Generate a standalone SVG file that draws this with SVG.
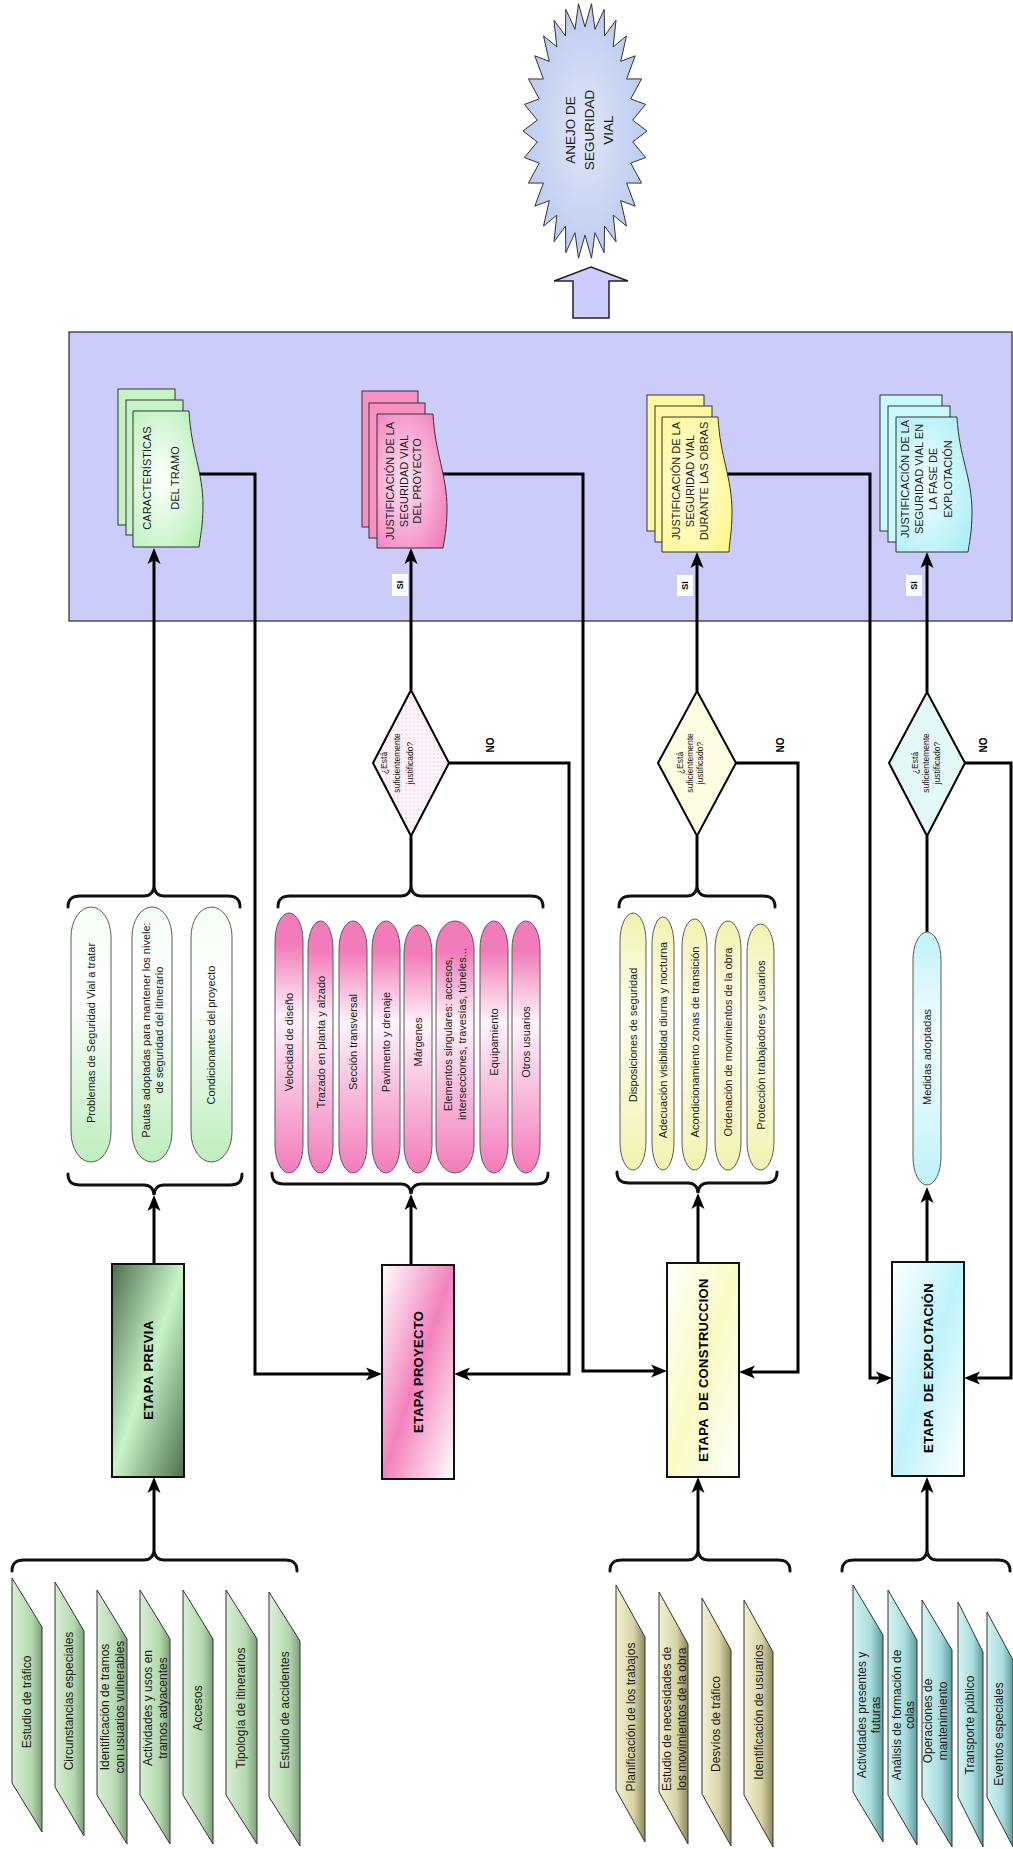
<svg xmlns="http://www.w3.org/2000/svg" width="1013" height="1849" viewBox="0 0 1013 1849">
<defs>
<style>
.ln{fill:none;stroke:#000;stroke-width:3}
.br{fill:none;stroke:#111;stroke-width:3;stroke-linecap:round}
.tx{font-family:"Liberation Sans",Arial,sans-serif;fill:#1a1a1a}
.bd{font-weight:bold;fill:#000}
.bub{stroke:#5a5a5a;stroke-width:1}
.doc{stroke:#333;stroke-width:1}
.stage{stroke:#111;stroke-width:2}
.inp{stroke:#333;stroke-width:1}
.dia{stroke:#000;stroke-width:2}
.lbl{fill:#fff;stroke:none}
</style>
<marker id="ah" markerUnits="userSpaceOnUse" markerWidth="16" markerHeight="16" viewBox="0 0 16 16" refX="9" refY="8" orient="auto">
<path d="M0,1.5 L16,8 L0,14.5 L4,8 Z" fill="#000"/>
</marker>
<radialGradient id="gStar" cx="0.5" cy="0.5" r="0.6"><stop offset="0" stop-color="#e2e6f8"/><stop offset="1" stop-color="#b4c6ee"/></radialGradient>
<linearGradient id="gPrevia" x1="0" y1="0" x2="1" y2="1"><stop offset="0" stop-color="#4e6e4e"/><stop offset="0.5" stop-color="#c8f5c8"/><stop offset="1" stop-color="#4e6e4e"/></linearGradient>
<linearGradient id="gProy" x1="0" y1="0" x2="1" y2="1"><stop offset="0" stop-color="#ffffff"/><stop offset="0.5" stop-color="#f282bc"/><stop offset="1" stop-color="#ffffff"/></linearGradient>
<linearGradient id="gCons" x1="0" y1="0" x2="1" y2="1"><stop offset="0" stop-color="#ffffff"/><stop offset="0.5" stop-color="#fafac4"/><stop offset="1" stop-color="#ffffff"/></linearGradient>
<linearGradient id="gExpl" x1="0" y1="0" x2="1" y2="1"><stop offset="0" stop-color="#ffffff"/><stop offset="0.5" stop-color="#bff3fb"/><stop offset="1" stop-color="#ffffff"/></linearGradient>
<radialGradient id="dGrn" cx="0.4" cy="0.5" r="0.7"><stop offset="0" stop-color="#ffffff"/><stop offset="1" stop-color="#b8f0b8"/></radialGradient>
<radialGradient id="dPnk" cx="0.4" cy="0.5" r="0.7"><stop offset="0" stop-color="#fde4f2"/><stop offset="1" stop-color="#f27cbb"/></radialGradient>
<radialGradient id="dYel" cx="0.4" cy="0.5" r="0.7"><stop offset="0" stop-color="#ffffe4"/><stop offset="1" stop-color="#fff68c"/></radialGradient>
<radialGradient id="dCyn" cx="0.4" cy="0.5" r="0.7"><stop offset="0" stop-color="#f4ffff"/><stop offset="1" stop-color="#aaeef6"/></radialGradient>
<linearGradient id="bGrn" x1="0" y1="0" x2="0" y2="1"><stop offset="0" stop-color="#f4fff4"/><stop offset="0.35" stop-color="#ffffff"/><stop offset="1" stop-color="#bdeebd"/></linearGradient>
<linearGradient id="bPnk" x1="0" y1="0" x2="0" y2="1"><stop offset="0" stop-color="#f27cb9"/><stop offset="0.12" stop-color="#f27cb9"/><stop offset="0.4" stop-color="#fff4fa"/><stop offset="0.7" stop-color="#f8b8da"/><stop offset="1" stop-color="#f27cb9"/></linearGradient>
<linearGradient id="bYel" x1="0" y1="0" x2="0" y2="1"><stop offset="0" stop-color="#f2f2b0"/><stop offset="0.4" stop-color="#fffff0"/><stop offset="1" stop-color="#f2f2b0"/></linearGradient>
<linearGradient id="bCyn" x1="0" y1="0" x2="0" y2="1"><stop offset="0" stop-color="#bff2f6"/><stop offset="0.4" stop-color="#f4ffff"/><stop offset="1" stop-color="#bff2f6"/></linearGradient>
<linearGradient id="iGrn" x1="0" y1="0" x2="1" y2="0"><stop offset="0" stop-color="#d8f0d4"/><stop offset="0.65" stop-color="#b4d8ae"/><stop offset="1" stop-color="#809f7d"/></linearGradient>
<linearGradient id="iKhk" x1="0" y1="0" x2="1" y2="0"><stop offset="0" stop-color="#f2f2d2"/><stop offset="0.6" stop-color="#d8d4a6"/><stop offset="1" stop-color="#8c885e"/></linearGradient>
<linearGradient id="iCyn" x1="0" y1="0" x2="1" y2="0"><stop offset="0" stop-color="#d4f4f4"/><stop offset="0.6" stop-color="#a8dcdc"/><stop offset="1" stop-color="#5e9c9c"/></linearGradient>
<pattern id="dots" width="4" height="4" patternUnits="userSpaceOnUse"><rect width="4" height="4" fill="#fdf3f8"/><circle cx="2" cy="2" r="0.6" fill="#e4a8c6"/></pattern>
</defs>

<rect width="1013" height="1849" fill="#fff"/>

<!-- Star -->
<g id="anejo">
<polygon points="647,131 632.7,120.1 645.6,104.4 630.7,98.9 641.6,78.9 626.6,79 635.2,55.8 620.7,61.4 626.5,35.9 613.2,46.9 616,20.2 604.5,36 604.2,9.3 595,29.3 591.5,3.7 585,27 578.5,3.7 575,29.3 565.8,9.3 565.5,36 554,20.2 556.8,46.9 543.5,35.9 549.3,61.4 534.8,55.8 543.4,79 528.4,78.9 539.3,98.9 524.4,104.4 537.3,120.1 523,131 537.3,141.9 524.4,157.6 539.3,163.1 528.4,183.1 543.4,183 534.8,206.2 549.3,200.6 543.5,226.1 556.8,215.1 554,241.8 565.5,226 565.8,252.7 575,232.7 578.5,258.3 585,235 591.5,258.3 595,232.7 604.2,252.7 604.5,226 616,241.8 613.2,215.1 626.5,226.1 620.7,200.6 635.2,206.2 626.6,183 641.6,183.1 630.7,163.1 645.6,157.6 632.7,141.9" fill="url(#gStar)" stroke="#333" stroke-width="1"/>
<text class="tx" font-size="13.5" text-anchor="middle" transform="translate(589,130) rotate(-90)"><tspan x="0" y="-14.3">ANEJO DE</tspan><tspan x="0" y="4.7">SEGURIDAD</tspan><tspan x="0" y="23.7">VIAL</tspan></text>
</g>
<g id="flecha-anejo">
<polygon points="591,267 628,281 609,281 609,318 573,318 573,281 554,281" fill="#ccccff" stroke="#222" stroke-width="1.5"/>
</g>

<!-- Panel -->
<g id="panel">
<rect x="69" y="332" width="943" height="289" fill="#ccccfa" stroke="#000" stroke-width="1"/>
</g>

<!-- Connectors -->
<g id="connectors">
<path class="ln" d="M154,1264 V1202" marker-end="url(#ah)"/>
<path class="ln" d="M154,1550 V1484" marker-end="url(#ah)"/>
<path class="ln" d="M154,886 V555" marker-end="url(#ah)"/>
<path class="ln" d="M411,1265 V1201" marker-end="url(#ah)"/>
<path class="ln" d="M411,886 V836"/>
<path class="ln" d="M411,690 V555" marker-end="url(#ah)"/>
<path class="ln" d="M449,763 H569 V1374 H461" marker-end="url(#ah)"/>
<path class="ln" d="M180,474 H255 V1374 H375" marker-end="url(#ah)"/>
<path class="ln" d="M430,474 H583 V1371 H660" marker-end="url(#ah)"/>
<path class="ln" d="M698,1263 V1200" marker-end="url(#ah)"/>
<path class="ln" d="M698,1550 V1484" marker-end="url(#ah)"/>
<path class="ln" d="M697,886 V836"/>
<path class="ln" d="M697,691 V559" marker-end="url(#ah)"/>
<path class="ln" d="M736,763 H798 V1372 H746" marker-end="url(#ah)"/>
<path class="ln" d="M715,474 H870 V1378 H885" marker-end="url(#ah)"/>
<path class="ln" d="M927,1262 V1194" marker-end="url(#ah)"/>
<path class="ln" d="M927,932 V836"/>
<path class="ln" d="M927,692 V559" marker-end="url(#ah)"/>
<path class="ln" d="M964,763 H1011 V1378 H971" marker-end="url(#ah)"/>
<path class="ln" d="M927,1550 V1484" marker-end="url(#ah)"/>
<!-- braces -->
<path class="br" d="M68,907 C68,899 72,896 80,896 H144 C150,896 154,892 154,886 C154,892 158,896 164,896 H228 C236,896 240,899 240,907"/>
<path class="br" d="M68,1174 C68,1182 72,1185 80,1185 H144 C150,1185 154,1189 154,1195 C154,1189 158,1185 164,1185 H230 C238,1185 242,1182 242,1174"/>
<path class="br" d="M278,907 C278,899 282,896 290,896 H401 C407,896 411,892 411,886 C411,892 415,896 421,896 H531 C539,896 543,899 543,907"/>
<path class="br" d="M272,1173 C272,1181 276,1184 284,1184 H401 C407,1184 411,1188 411,1194 C411,1188 415,1184 421,1184 H536 C544,1184 548,1181 548,1173"/>
<path class="br" d="M619,907 C619,899 623,896 631,896 H687 C693,896 697,892 697,886 C697,892 701,896 707,896 H763 C771,896 775,899 775,907"/>
<path class="br" d="M617,1172 C617,1180 621,1183 629,1183 H688 C694,1183 698,1187 698,1193 C698,1187 702,1183 708,1183 H765 C773,1183 777,1180 777,1172"/>
<path class="br" d="M12,1571 C12,1563 16,1560 24,1560 H144 C150,1560 154,1556 154,1550 C154,1556 158,1560 164,1560 H285 C293,1560 297,1563 297,1571"/>
<path class="br" d="M610,1571 C610,1563 614,1560 622,1560 H688 C694,1560 698,1556 698,1550 C698,1556 702,1560 708,1560 H778 C786,1560 790,1563 790,1571"/>
<path class="br" d="M842,1571 C842,1563 846,1560 854,1560 H917 C923,1560 927,1556 927,1550 C927,1556 931,1560 937,1560 H998 C1006,1560 1010,1563 1010,1571"/>
<!-- labels -->
<rect class="lbl" x="392" y="574" width="16" height="22"/>
<text class="tx bd" font-size="9" text-anchor="middle" transform="translate(400,585) rotate(-90)" y="3.2">SI</text>
<rect class="lbl" x="677" y="575" width="16" height="21"/>
<text class="tx bd" font-size="9" text-anchor="middle" transform="translate(685,585.5) rotate(-90)" y="3.2">SI</text>
<rect class="lbl" x="906" y="575" width="16" height="21"/>
<text class="tx bd" font-size="9" text-anchor="middle" transform="translate(914,585.5) rotate(-90)" y="3.2">SI</text>
<text class="tx bd" font-size="10" text-anchor="middle" transform="translate(490,745) rotate(-90)" y="3.5">NO</text>
<text class="tx bd" font-size="10" text-anchor="middle" transform="translate(780,745) rotate(-90)" y="3.5">NO</text>
<text class="tx bd" font-size="10" text-anchor="middle" transform="translate(983,745) rotate(-90)" y="3.5">NO</text>
</g>

<!-- Documents in panel -->
<g id="doc-caracteristicas">
<rect class="doc" x="118" y="389" width="57" height="136" fill="#c4f4c4"/>
<rect class="doc" x="126" y="400" width="57" height="135" fill="#c4f4c4"/>
<path class="doc" d="M133,411 H189 C191,451 203,471 203,506 C203,526 200,538 199,547 H133 Z" fill="url(#dGrn)"/>
<text class="tx" font-size="11" text-anchor="middle" transform="translate(161,478) rotate(-90)"><tspan x="0" y="-10">CARACTERÍSTICAS</tspan><tspan x="0" y="18">DEL TRAMO</tspan></text>
</g>
<g id="doc-proyecto">
<rect class="doc" x="362" y="391" width="56" height="136" fill="#f890c4"/>
<rect class="doc" x="369" y="403" width="56" height="135" fill="#f890c4"/>
<path class="doc" d="M377,414 H433 C435,454 447,474 447,509 C447,529 444,541 443,548 H377 Z" fill="url(#dPnk)"/>
<text class="tx" font-size="11" text-anchor="middle" transform="translate(403,481) rotate(-90)"><tspan x="0" y="-9">JUSTIFICACIÓN DE LA</tspan><tspan x="0" y="4.5">SEGURIDAD VIAL</tspan><tspan x="0" y="18">DEL PROYECTO</tspan></text>
</g>
<g id="doc-obras">
<rect class="doc" x="647" y="395" width="57" height="136" fill="#fff9a0"/>
<rect class="doc" x="655" y="406" width="57" height="136" fill="#fff9a0"/>
<path class="doc" d="M662,417 H718 C720,457 732,477 732,512 C732,532 729,545 729,552 H662 Z" fill="url(#dYel)"/>
<text class="tx" font-size="11" text-anchor="middle" transform="translate(690,481) rotate(-90)"><tspan x="0" y="-10">JUSTIFICACIÓN DE LA</tspan><tspan x="0" y="4">SEGURIDAD VIAL</tspan><tspan x="0" y="18">DURANTE LAS OBRAS</tspan></text>
</g>
<g id="doc-explotacion">
<rect class="doc" x="880" y="395" width="62" height="136" fill="#c8fafa"/>
<rect class="doc" x="888" y="406" width="62" height="136" fill="#c8fafa"/>
<path class="doc" d="M896,417 H957 C959,457 972,477 972,512 C972,532 969,545 968,552 H896 Z" fill="url(#dCyn)"/>
<text class="tx" font-size="11" text-anchor="middle" transform="translate(926,479) rotate(-90)"><tspan x="0" y="-17.5">JUSTIFICACIÓN DE LA</tspan><tspan x="0" y="-3.2">SEGURIDAD VIAL EN</tspan><tspan x="0" y="11.2">LA FASE DE</tspan><tspan x="0" y="25.5">EXPLOTACIÓN</tspan></text>
</g>

<!-- Decisions -->
<g id="dec-proyecto">
<polygon class="dia" points="411,690 449,763 411,836 373,763" fill="url(#dots)"/>
<text class="tx" font-size="8.5" text-anchor="middle" transform="translate(397,763) rotate(-90)"><tspan x="0" y="-10">¿Está</tspan><tspan x="0" y="3">suficientemente</tspan><tspan x="0" y="16">justificado?</tspan></text>
</g>
<g id="dec-construccion">
<polygon class="dia" points="697,691 736,763 697,836 658,763" fill="#fdfde2"/>
<text class="tx" font-size="8.5" text-anchor="middle" transform="translate(690,763) rotate(-90)"><tspan x="0" y="-7">¿Está</tspan><tspan x="0" y="3">suficientemente</tspan><tspan x="0" y="13">justificado?</tspan></text>
</g>
<g id="dec-explotacion">
<polygon class="dia" points="927,692 965,763 927,836 889,763" fill="#e4f8f8"/>
<text class="tx" font-size="8.5" text-anchor="middle" transform="translate(926,763) rotate(-90)"><tspan x="0" y="-8">¿Está</tspan><tspan x="0" y="3">suficientemente</tspan><tspan x="0" y="14">justificado?</tspan></text>
</g>

<!-- Previa bubbles -->
<g id="previa-resultados">
<path class="bub" d="M71,937 A20,30 0 0 1 111,937 V1132 A20,30 0 0 1 71,1132 Z" fill="url(#bGrn)"/>
<path class="bub" d="M132,937 A20,30 0 0 1 172,937 V1132 A20,30 0 0 1 132,1132 Z" fill="url(#bGrn)"/>
<path class="bub" d="M191,937 A20.5,30 0 0 1 232,937 V1132 A20.5,30 0 0 1 191,1132 Z" fill="url(#bGrn)"/>
<text class="tx" font-size="11" text-anchor="middle" transform="translate(91,1033) rotate(-90)" y="4">Problemas de Seguridad Vial a tratar</text>
<text class="tx" font-size="11" text-anchor="middle" transform="translate(152,1030) rotate(-90)"><tspan x="0" y="-2.5">Pautas adoptadas para mantener los nivele:</tspan><tspan x="0" y="10.5">de seguridad del itinerario</tspan></text>
<text class="tx" font-size="11" text-anchor="middle" transform="translate(211,1035) rotate(-90)" y="4">Condicionantes del proyecto</text>
</g>

<!-- Proyecto bubbles -->
<g id="proyecto-resultados">
<path class="bub" d="M275,941 A14,28 0 0 1 303,941 V1145 A14,28 0 0 1 275,1145 Z" fill="url(#bPnk)"/>
<path class="bub" d="M308,949 A12.5,28 0 0 1 333,949 V1145 A12.5,28 0 0 1 308,1145 Z" fill="url(#bPnk)"/>
<path class="bub" d="M339,949 A14,28 0 0 1 367,949 V1145 A14,28 0 0 1 339,1145 Z" fill="url(#bPnk)"/>
<path class="bub" d="M372,949 A14,28 0 0 1 400,949 V1145 A14,28 0 0 1 372,1145 Z" fill="url(#bPnk)"/>
<path class="bub" d="M404,953 A14,28 0 0 1 432,953 V1145 A14,28 0 0 1 404,1145 Z" fill="url(#bPnk)"/>
<path class="bub" d="M436,949 A19,28 0 0 1 474,949 V1145 A19,28 0 0 1 436,1145 Z" fill="url(#bPnk)"/>
<path class="bub" d="M480,949 A14,28 0 0 1 508,949 V1145 A14,28 0 0 1 480,1145 Z" fill="url(#bPnk)"/>
<path class="bub" d="M512,949 A14,28 0 0 1 540,949 V1145 A14,28 0 0 1 512,1145 Z" fill="url(#bPnk)"/>
<text class="tx" font-size="11" text-anchor="middle" transform="translate(289,1042) rotate(-90)" y="4">Velocidad de diseño</text>
<text class="tx" font-size="11" text-anchor="middle" transform="translate(320.5,1042) rotate(-90)" y="4">Trazado en planta y alzado</text>
<text class="tx" font-size="11" text-anchor="middle" transform="translate(353,1042) rotate(-90)" y="4">Sección transversal</text>
<text class="tx" font-size="11" text-anchor="middle" transform="translate(386,1042) rotate(-90)" y="4">Pavimento y drenaje</text>
<text class="tx" font-size="11" text-anchor="middle" transform="translate(418,1042) rotate(-90)" y="4">Márgenes</text>
<text class="tx" font-size="11" text-anchor="middle" transform="translate(455,1034) rotate(-90)"><tspan x="0" y="-3">Elementos singulares: accesos,</tspan><tspan x="0" y="11">intersecciones, travesías, túneles...</tspan></text>
<text class="tx" font-size="11" text-anchor="middle" transform="translate(494,1042) rotate(-90)" y="4">Equipamiento</text>
<text class="tx" font-size="11" text-anchor="middle" transform="translate(526,1042) rotate(-90)" y="4">Otros usuarios</text>
</g>

<!-- Construccion bubbles -->
<g id="construccion-resultados">
<path class="bub" d="M620,941 A13,28 0 0 1 646,941 V1142 A13,28 0 0 1 620,1142 Z" fill="url(#bYel)"/>
<path class="bub" d="M652,945 A11,28 0 0 1 674,945 V1142 A11,28 0 0 1 652,1142 Z" fill="url(#bYel)"/>
<path class="bub" d="M682,947 A12.5,28 0 0 1 707,947 V1142 A12.5,28 0 0 1 682,1142 Z" fill="url(#bYel)"/>
<path class="bub" d="M715,949 A13,28 0 0 1 741,949 V1142 A13,28 0 0 1 715,1142 Z" fill="url(#bYel)"/>
<path class="bub" d="M747,952 A13.5,28 0 0 1 774,952 V1142 A13.5,28 0 0 1 747,1142 Z" fill="url(#bYel)"/>
<text class="tx" font-size="11" text-anchor="middle" transform="translate(633,1035) rotate(-90)" y="4">Disposiciones de seguridad</text>
<text class="tx" font-size="11" text-anchor="middle" transform="translate(663,1040) rotate(-90)" y="4">Adecuación visibilidad diurna y nocturna</text>
<text class="tx" font-size="11" text-anchor="middle" transform="translate(694.5,1042) rotate(-90)" y="4">Acondicionamiento zonas de transición</text>
<text class="tx" font-size="11" text-anchor="middle" transform="translate(728,1042) rotate(-90)" y="4">Ordenación de movimientos de la obra</text>
<text class="tx" font-size="11" text-anchor="middle" transform="translate(760.5,1045) rotate(-90)" y="4">Protección trabajadores y usuarios</text>
</g>

<!-- Explotacion bubble -->
<g id="explotacion-resultados">
<path class="bub" d="M913,960 A14,28 0 0 1 941,960 V1157 A14,28 0 0 1 913,1157 Z" fill="url(#bCyn)"/>
<text class="tx" font-size="11" text-anchor="middle" transform="translate(927,1057) rotate(-90)" y="4">Medidas adoptadas</text>
</g>

<!-- Stage boxes -->
<g id="etapa-previa">
<rect class="stage" x="112" y="1264" width="72" height="213" fill="url(#gPrevia)"/>
<text class="tx bd" font-size="13" text-anchor="middle" letter-spacing="0.5" transform="translate(148,1370) rotate(-90)" y="4.6">ETAPA PREVIA</text>
</g>
<g id="etapa-proyecto">
<rect class="stage" x="382" y="1265" width="72" height="214" fill="url(#gProy)"/>
<text class="tx bd" font-size="13" text-anchor="middle" letter-spacing="0.3" transform="translate(418,1372) rotate(-90)" y="4.6">ETAPA PROYECTO</text>
</g>
<g id="etapa-construccion">
<rect class="stage" x="667" y="1263" width="72" height="214" fill="url(#gCons)"/>
<text class="tx bd" font-size="13" text-anchor="middle" letter-spacing="0.3" xml:space="preserve" transform="translate(703,1370) rotate(-90)" y="4.6">ETAPA  DE CONSTRUCCION</text>
</g>
<g id="etapa-explotacion">
<rect class="stage" x="892" y="1262" width="72" height="214" fill="url(#gExpl)"/>
<text class="tx bd" font-size="13" text-anchor="middle" letter-spacing="0.3" xml:space="preserve" transform="translate(928,1368) rotate(-90)" y="4.6">ETAPA  DE EXPLOTACIÓN</text>
</g>

<!-- Previa inputs -->
<g id="previa-entradas">
<polygon class="inp" points="12,1578 42,1627 42,1832 12,1783" fill="url(#iGrn)"/>
<polygon class="inp" points="55,1582 84,1631 84,1836 55,1787" fill="url(#iGrn)"/>
<polygon class="inp" points="97,1590 127,1639 127,1844 97,1795" fill="url(#iGrn)"/>
<polygon class="inp" points="140,1590 170,1639 170,1844 140,1795" fill="url(#iGrn)"/>
<polygon class="inp" points="183,1590 213,1639 213,1844 183,1795" fill="url(#iGrn)"/>
<polygon class="inp" points="226,1590 257,1639 257,1844 226,1795" fill="url(#iGrn)"/>
<polygon class="inp" points="269,1592 300,1641 300,1846 269,1797" fill="url(#iGrn)"/>
<text class="tx" font-size="12" text-anchor="middle" transform="translate(27,1702) rotate(-90)" y="4.2">Estudio de tráfico</text>
<text class="tx" font-size="12" text-anchor="middle" transform="translate(69,1701) rotate(-90)" y="4.2">Circunstancias especiales</text>
<text class="tx" font-size="12" text-anchor="middle" transform="translate(112,1707) rotate(-90)"><tspan x="0" y="-3.5">Identificación de tramos</tspan><tspan x="0" y="11.5">con usuarios vulnerables</tspan></text>
<text class="tx" font-size="12" text-anchor="middle" transform="translate(155,1708) rotate(-90)"><tspan x="0" y="-3.5">Actividades y usos en</tspan><tspan x="0" y="11.5">tramos adyacentes</tspan></text>
<text class="tx" font-size="12" text-anchor="middle" transform="translate(198,1708) rotate(-90)" y="4.2">Accesos</text>
<text class="tx" font-size="12" text-anchor="middle" transform="translate(241,1708) rotate(-90)" y="4.2">Tipología de itinerarios</text>
<text class="tx" font-size="12" text-anchor="middle" transform="translate(285,1710) rotate(-90)" y="4.2">Estudio de accidentes</text>
</g>

<!-- Construccion inputs -->
<g id="construccion-entradas">
<polygon class="inp" points="616,1585 645,1637 645,1842 616,1790" fill="url(#iKhk)"/>
<polygon class="inp" points="659,1592 688,1644 688,1844 659,1792" fill="url(#iKhk)"/>
<polygon class="inp" points="702,1598 731,1650 731,1846 702,1794" fill="url(#iKhk)"/>
<polygon class="inp" points="744,1600 773,1652 773,1847 744,1795" fill="url(#iKhk)"/>
<text class="tx" font-size="12" text-anchor="middle" transform="translate(631,1717) rotate(-90)" y="4.2">Planificación de los trabajos</text>
<text class="tx" font-size="12" text-anchor="middle" transform="translate(674,1719) rotate(-90)"><tspan x="0" y="-3.3">Estudio de necesidades de</tspan><tspan x="0" y="11.7">los movimientos de la obra</tspan></text>
<text class="tx" font-size="12" text-anchor="middle" transform="translate(716,1724) rotate(-90)" y="4.2">Desvíos de tráfico</text>
<text class="tx" font-size="12" text-anchor="middle" transform="translate(759,1712) rotate(-90)" y="4.2">Identificación de usuarios</text>
</g>

<!-- Explotacion inputs -->
<g id="explotacion-entradas">
<polygon class="inp" points="853,1585 883,1635 883,1842 853,1792" fill="url(#iCyn)"/>
<polygon class="inp" points="888,1590 917,1640 917,1845 888,1795" fill="url(#iCyn)"/>
<polygon class="inp" points="922,1600 952,1650 952,1847 922,1797" fill="url(#iCyn)"/>
<polygon class="inp" points="958,1602 983,1652 983,1847 958,1797" fill="url(#iCyn)"/>
<polygon class="inp" points="987,1612 1013,1660 1013,1847 987,1797" fill="url(#iCyn)"/>
<text class="tx" font-size="12" text-anchor="middle" transform="translate(869,1715) rotate(-90)"><tspan x="0" y="-2.8">Actividades presentes y</tspan><tspan x="0" y="11.2">futuras</tspan></text>
<text class="tx" font-size="12" text-anchor="middle" transform="translate(903,1715) rotate(-90)"><tspan x="0" y="-2.3">Análisis de formación de</tspan><tspan x="0" y="10.7">colas</tspan></text>
<text class="tx" font-size="12" text-anchor="middle" transform="translate(935.5,1721) rotate(-90)"><tspan x="0" y="-3.3">Operaciones de</tspan><tspan x="0" y="11.7">mantenimiento</tspan></text>
<text class="tx" font-size="12" text-anchor="middle" transform="translate(970,1725) rotate(-90)" y="4.2">Transporte público</text>
<text class="tx" font-size="12" text-anchor="middle" transform="translate(999,1734) rotate(-90)" y="4.2">Eventos especiales</text>
</g>
</svg>
